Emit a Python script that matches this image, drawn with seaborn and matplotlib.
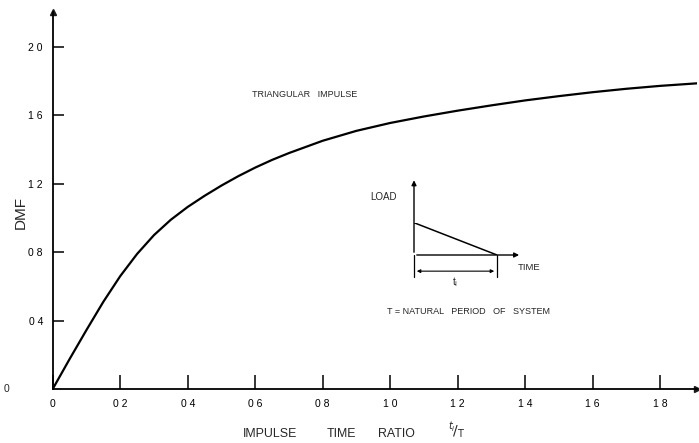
import matplotlib
matplotlib.use('Agg')
import matplotlib.pyplot as plt
import seaborn as sns

# DMF curve for a triangular impulse
t_ratio = [0, 0.05, 0.1, 0.15, 0.2, 0.25, 0.3, 0.35, 0.4, 0.45, 0.5, 0.55,
           0.6, 0.65, 0.7, 0.8, 0.9, 1.0, 1.1, 1.2, 1.3, 1.4, 1.5, 1.6, 1.7,
           1.8, 1.91]
dmf = [0, 0.175, 0.345, 0.51, 0.66, 0.79, 0.90, 0.99, 1.065, 1.13, 1.19,
       1.245, 1.295, 1.34, 1.38, 1.452, 1.51, 1.556, 1.594, 1.628, 1.659,
       1.688, 1.713, 1.736, 1.756, 1.773, 1.788]

x_ticks = [0, 0.2, 0.4, 0.6, 0.8, 1.0, 1.2, 1.4, 1.6, 1.8]
x_labels = ["0", "0 2", "0 4", "0 6", "0 8", "1 0", "1 2", "1 4", "1 6", "1 8"]
y_ticks = [0.4, 0.8, 1.2, 1.6, 2.0]
y_labels = ["0 4", "0 8", "1 2", "1 6", "2 0"]

# small load-time sketch (inset), in its own units
load_t = [0, 1]
load_v = [1, 0]

sns.set_theme(style="white")
plt.rcParams['font.family'] = ['Liberation Sans', 'DejaVu Sans']

fig = plt.figure(figsize=(6.99, 4.43), dpi=100)
ax = fig.add_axes([0.0754, 0.1219, 0.9218, 0.851])

sns.lineplot(x=t_ratio, y=dmf, ax=ax, color="black", linewidth=1.6)

ax.set_xlim(0, 1.909)
ax.set_ylim(0, 2.205)
for side in ["top", "right"]:
    ax.spines[side].set_visible(False)
for side in ["left", "bottom"]:
    ax.spines[side].set_color("black")
    ax.spines[side].set_linewidth(1.3)

# arrow heads on the axes
ax.plot(1, 0, ">k", markersize=5, transform=ax.transAxes, clip_on=False)
ax.plot(0, 1, "^k", markersize=5, transform=ax.transAxes, clip_on=False)

ax.set_xticks(x_ticks)
ax.set_xticklabels(x_labels)
ax.set_yticks(y_ticks)
ax.set_yticklabels(y_labels)
ax.tick_params(axis="x", direction="in", length=10, width=1.1, pad=7,
               labelsize=7.5, colors="black", bottom=True)
ax.tick_params(axis="y", direction="in", length=8, width=1.1, pad=7,
               labelsize=7.5, colors="black", left=True)
ax.text(-0.072, 0, "0", transform=ax.get_yaxis_transform(), fontsize=7.5,
        ha="center", va="center")

ax.set_ylabel("")
ax.set_xlabel("")
fig.text(0.030, 0.521, "DMF", rotation=90, ha="center", va="center", fontsize=11)
for word, xpx in [("IMPULSE", 243), ("TIME", 327), ("RATIO", 378)]:
    fig.text(xpx / 699, 0.006, word, ha="left", va="bottom", fontsize=8.9)
fig.text(0.641, 0.006, r"$^{t_i}\!/_{\mathrm{T}}$", ha="left", va="bottom",
         fontsize=10)

ax.text(0.59, 1.72, "TRIANGULAR   IMPULSE", fontsize=6.5, ha="left", va="center")

# inset sketch of the load pulse
ins = fig.add_axes([414 / 699, 1 - 255 / 443, 83 / 699, 32.3 / 443])
ins.set_xlim(0, 1)
ins.set_ylim(0, 1)
ins.axis("off")
sns.lineplot(x=load_t, y=load_v, ax=ins, color="black", linewidth=1.1)
arrow = dict(arrowstyle="-|>", color="black", lw=1.0, mutation_scale=7)
ins.annotate("", xy=(0, 2.4), xytext=(0, 0), arrowprops=arrow, annotation_clip=False)
ins.annotate("", xy=(1.3, 0), xytext=(0, 0), arrowprops=arrow, annotation_clip=False)
ins.plot([0, 0], [0, -0.68], color="black", lw=0.9, clip_on=False)
ins.plot([1, 1], [0, -0.68], color="black", lw=0.9, clip_on=False)
ins.annotate("", xy=(0, -0.5), xytext=(1, -0.5), annotation_clip=False,
             arrowprops=dict(arrowstyle="<|-|>", color="black", lw=0.8, mutation_scale=5))
ins.text(0.49, -0.85, r"t$_\mathrm{i}$", fontsize=7, ha="center", va="center")
ins.text(-0.37, 1.8, "LOAD", fontsize=7, ha="center", va="center")
ins.text(1.39, -0.4, "TIME", fontsize=6.8, ha="center", va="center")
ins.text(-0.32, -1.74, "T = NATURAL   PERIOD   OF   SYSTEM", fontsize=6.5,
         ha="left", va="center")

fig.savefig("out.png", dpi=100)
